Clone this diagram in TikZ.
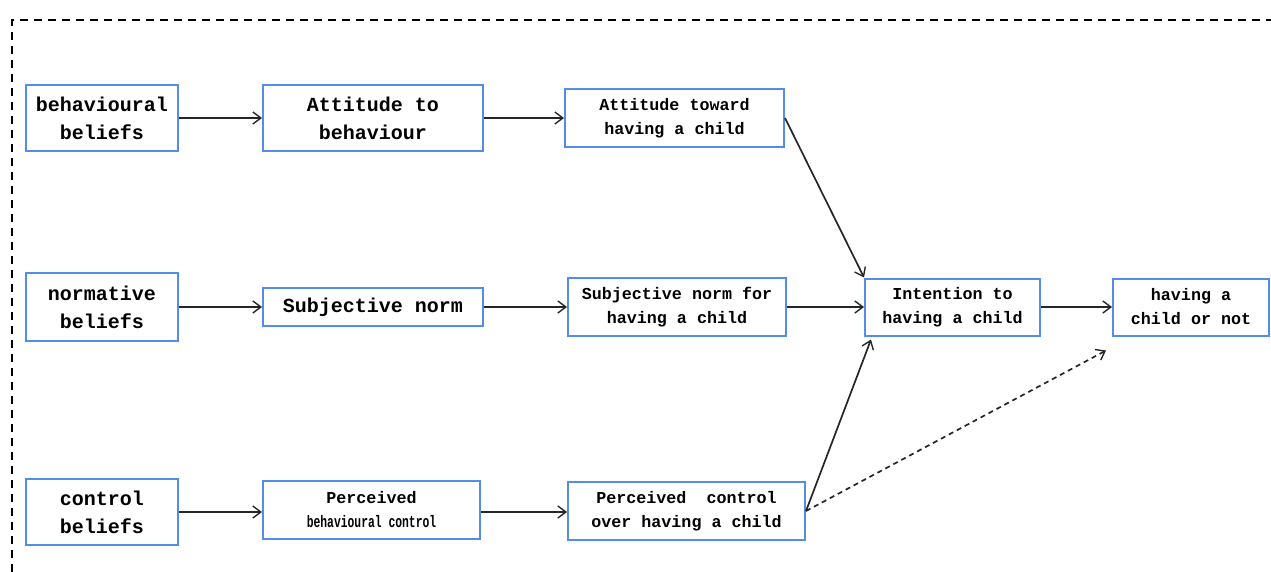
\documentclass[tikz,border=0pt]{standalone}
\usepackage{fontspec}
\setmonofont{Liberation Mono}
\usetikzlibrary{arrows.meta,calc}
\definecolor{boxblue}{RGB}{84,141,230}
\tikzset{
  box/.style={draw=boxblue,line width=2pt,align=center,inner sep=0pt,font=\ttfamily\bfseries},
  big/.style={font=\ttfamily\bfseries\fontsize{20}{28}\selectfont},
  small/.style={font=\ttfamily\bfseries\fontsize{16.7}{24}\selectfont},
  conn/.style={line width=1.7pt,-{Straight Barb[length=8pt,width=12pt,line width=1.4pt]},draw=black!85},
}
\begin{document}
\begin{tikzpicture}[x=1pt,y=-1pt]
\useasboundingbox (0,0) rectangle (1271,572);
\begin{scope}
\clip (0,0) rectangle (1271,572);
\draw[line width=1.5pt,dash pattern=on 8pt off 6pt] (12,600) -- (12,20) -- (1290,20);
\end{scope}
% row 1
\node[box,big,minimum width=152pt,minimum height=66pt] (b1) at (102,118) {behavioural\\beliefs};
\node[box,big,minimum width=220pt,minimum height=66pt] (b2) at (373,118) {Attitude to\\behaviour};
\node[box,small,minimum width=219pt,minimum height=58pt] (b3) at (674.5,118) {Attitude toward\\having a child};
% row 2
\node[box,big,minimum width=152pt,minimum height=68pt] (b4) at (102,307) {normative\\beliefs};
\node[box,big,minimum width=220pt,minimum height=38pt] (b5) at (373,307) {Subjective norm};
\node[box,small,minimum width=218pt,minimum height=58pt] (b6) at (677,307) {Subjective norm for\\having a child};
\node[box,small,minimum width=175pt,minimum height=57pt] (b7) at (952.5,307) {Intention to\\having a child};
\node[box,small,minimum width=156pt,minimum height=57pt] (b8) at (1191,307) {having a\\child or not};
% row 3
\node[box,big,minimum width=152pt,minimum height=66pt] (b9) at (102,512) {control\\beliefs};
\node[box,small,minimum width=217pt,minimum height=58pt] (b10) at (371.5,510) {Perceived\\\scalebox{0.68}[1]{behavioural control}};
\node[box,small,minimum width=237pt,minimum height=58pt] (b11) at (686.5,511) {Perceived\ \ control\\over having a child};
\coordinate (dashend) at ($(b8.south west)+(-6,14)$);
\coordinate (pcend) at ($(b7.south west)+(7,3)$);
% connectors
\draw[conn] (b1.east) -- (b1.east -| b2.west);
\draw[conn] (b2.east) -- (b2.east -| b3.west);
\draw[conn] (b3.east) -- (b7.north west);
\draw[conn] (b4.east) -- (b4.east -| b5.west);
\draw[conn] (b5.east) -- (b5.east -| b6.west);
\draw[conn] (b6.east) -- (b6.east -| b7.west);
\draw[conn] (b7.east) -- (b7.east -| b8.west);
\draw[conn] (b9.east) -- (b9.east -| b10.west);
\draw[conn] (b9.east -| b10.east) -- (b9.east -| b11.west);
\draw[conn] (b11.east) -- (pcend);
\draw[conn,dash pattern=on 5pt off 4pt] (b11.east) -- (dashend);
\end{tikzpicture}
\end{document}
